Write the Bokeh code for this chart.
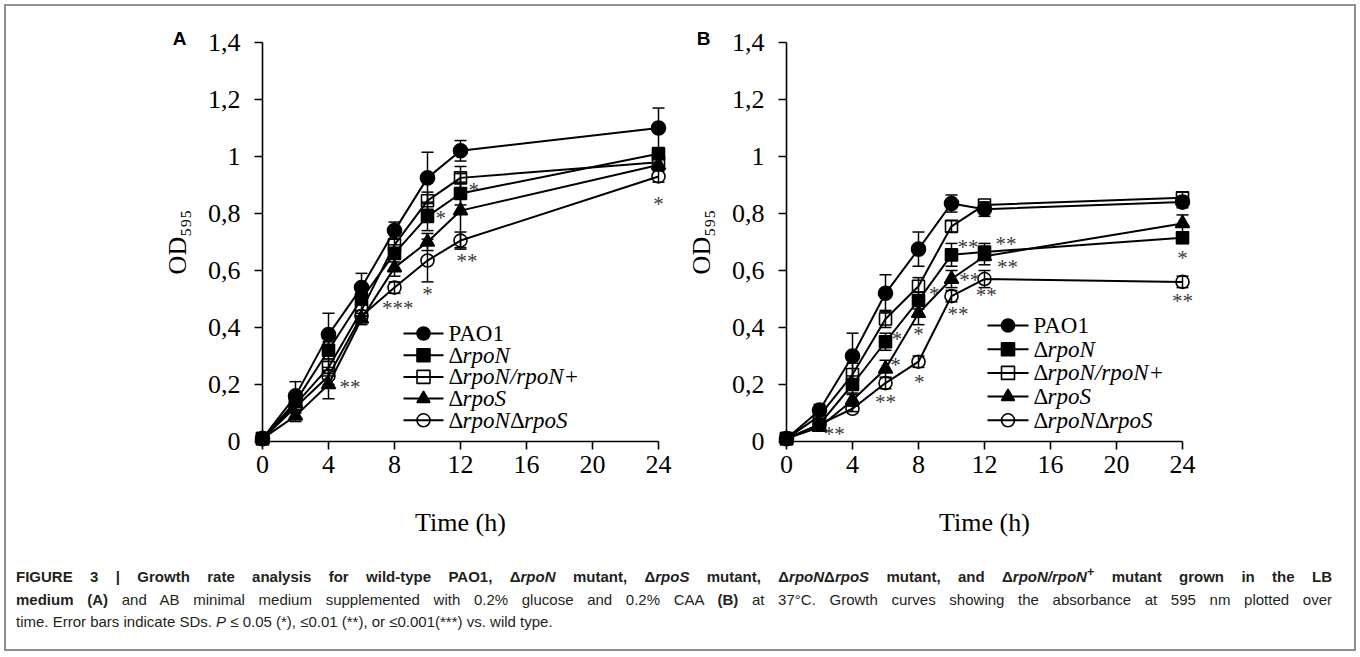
from bokeh.plotting import figure
from bokeh.models import ColumnDataSource, FixedTicker, CustomJSTickFormatter, Div
from bokeh.layouts import row, column
from bokeh.core.properties import value
from bokeh.embed import file_html
from bokeh.resources import INLINE

# ---------------- data ----------------
time_h = [0, 2, 4, 6, 8, 10, 12, 24]
x_ticks = [0, 4, 8, 12, 16, 20, 24]
y_ticks = [0, 0.2, 0.4, 0.6, 0.8, 1.0, 1.2, 1.4]

strain_names = ["PAO1", "ΔrpoN", "ΔrpoN/rpoN+", "ΔrpoS", "ΔrpoNΔrpoS"]
# legend label pieces: (text, italic)
strain_label_parts = [
    [("PAO1", False)],
    [("Δ", False), ("rpoN", True)],
    [("Δ", False), ("rpoN/rpoN+", True)],
    [("Δ", False), ("rpoS", True)],
    [("Δ", False), ("rpoN", True), ("Δ", False), ("rpoS", True)],
]

# Panel A (LB medium)
a_pao1 = [0.01, 0.16, 0.375, 0.54, 0.74, 0.925, 1.02, 1.10]
a_rpoN = [0.01, 0.14, 0.32, 0.50, 0.66, 0.79, 0.87, 1.01]
a_comp = [0.01, 0.13, 0.26, 0.46, 0.69, 0.845, 0.925, 0.98]
a_rpoS = [0.01, 0.09, 0.20, 0.43, 0.61, 0.70, 0.81, 0.97]
a_dbl = [0.01, 0.12, 0.23, 0.44, 0.54, 0.635, 0.705, 0.93]

a_pao1_sd = [0, 0.05, 0.075, 0.05, 0.03, 0.09, 0.036, 0.07]
a_rpoN_sd = [0, 0.02, 0.03, 0.02, 0.03, 0.05, 0.04, 0.02]
a_comp_sd = [0, 0.02, 0.03, 0.02, 0.02, 0.03, 0.04, 0.02]
a_rpoS_sd = [0, 0.02, 0.05, 0.02, 0.03, 0.03, 0.13, 0.02]
a_dbl_sd = [0, 0.02, 0.03, 0.02, 0.02, 0.075, 0.03, 0.02]

# Panel B (AB minimal medium)
b_pao1 = [0.01, 0.11, 0.30, 0.52, 0.675, 0.835, 0.815, 0.84]
b_rpoN = [0.01, 0.06, 0.20, 0.35, 0.495, 0.655, 0.665, 0.715]
b_comp = [0.01, 0.09, 0.235, 0.43, 0.545, 0.755, 0.83, 0.855]
b_rpoS = [0.01, 0.05, 0.145, 0.255, 0.45, 0.57, 0.65, 0.765]
b_dbl = [0.01, 0.06, 0.115, 0.205, 0.28, 0.51, 0.57, 0.56]

b_pao1_sd = [0, 0.02, 0.08, 0.065, 0.06, 0.03, 0.025, 0.02]
b_rpoN_sd = [0, 0.01, 0.03, 0.03, 0.03, 0.04, 0.03, 0.02]
b_comp_sd = [0, 0.01, 0.04, 0.03, 0.03, 0.02, 0.01, 0.02]
b_rpoS_sd = [0, 0.01, 0.02, 0.03, 0.04, 0.03, 0.03, 0.03]
b_dbl_sd = [0, 0.01, 0.01, 0.02, 0.02, 0.02, 0.03, 0.02]

# significance marks: (strain index, point index, text, dx [h], dy [OD])
a_marks = [(2, 6, "*", 0.8, -0.035), (1, 5, "*", 0.8, 0.0), (4, 6, "**", 0.4, -0.065),
           (4, 5, "*", 0.0, -0.11), (4, 4, "***", 0.2, -0.065), (3, 2, "**", 1.3, 0.0),
           (4, 7, "*", 0.0, -0.09)]
b_marks = [(3, 1, "**", 0.9, -0.015),
           (1, 3, "*", 0.7, 0.015), (3, 3, "*", 0.6, 0.02), (4, 3, "**", 0.0, -0.06),
           (1, 4, "*", 0.95, 0.03), (3, 4, "*", 0.0, -0.065), (4, 4, "*", 0.05, -0.065),
           (1, 5, "**", 1.0, 0.035), (3, 5, "**", 1.1, 0.005), (4, 5, "**", 0.4, -0.055),
           (1, 6, "**", 1.3, 0.035), (3, 6, "**", 1.4, -0.03), (4, 6, "**", 0.1, -0.05),
           (1, 7, "*", 0.0, -0.065), (4, 7, "**", 0.0, -0.06)]

# ---------------- styling / layout ----------------
SERIF = "Liberation Serif"
marker_styles = [("circle", True, 14), ("square", True, 12), ("square", False, 12),
                 ("triangle", True, 14), ("circle", False, 13)]

X_MAX, Y_MAX = 24, 1.4
FIG_H = 539
FRAME_W, FRAME_H = 396, 399
BORDER_T = 36
BORDER_B = FIG_H - BORDER_T - FRAME_H
FIG_A_W, BORDER_L_A = 674, 256
FIG_B_W, BORDER_L_B = 674, 106

# legend layout in frame pixels: (x of line start, line length, first row y, row pitch)
LEG_A = (141, 40, 291, 21.7)
LEG_B = (201, 41, 283, 23.7)
LEG_GAP = 5
LEG_FONT = 23
GLYPH_W = {"Δ": 0.613, "r": 0.389, "p": 0.5, "o": 0.5, "N": 0.667, "S": 0.5,
           "/": 0.278, "+": 0.675, "P": 0.556, "A": 0.722, "O": 0.722, "1": 0.5}


def px_x(px):
    return px / FRAME_W * X_MAX


def px_y(py):
    return Y_MAX - py / FRAME_H * Y_MAX


def text_width(s):
    return sum(GLYPH_W.get(c, 0.5) for c in s) * LEG_FONT


def build_panel(times, means, sds, marks, letter, width, border_l, leg):
    border_r = width - border_l - FRAME_W
    p = figure(width=width, height=FIG_H, x_range=(0, X_MAX), y_range=(0, Y_MAX),
               output_backend="svg", toolbar_location=None, title=None,
               min_border_left=border_l, min_border_right=border_r,
               min_border_top=BORDER_T, min_border_bottom=BORDER_B, margin=0)
    p.outline_line_color = None
    p.grid.visible = False
    p.background_fill_color = "white"
    p.border_fill_color = "white"

    p.xaxis.ticker = FixedTicker(ticks=x_ticks, minor_ticks=[])
    p.yaxis.ticker = FixedTicker(ticks=y_ticks, minor_ticks=[])
    p.yaxis.formatter = CustomJSTickFormatter(
        code="return (Math.round(tick*10)/10).toString().replace('.', ',');")
    p.xaxis.axis_label = "Time (h)"
    p.yaxis.axis_label = "OD₅₉₅"
    for ax in (p.xaxis[0], p.yaxis[0]):
        ax.axis_line_color = "black"
        ax.axis_line_width = 1.6
        ax.major_tick_line_color = "black"
        ax.major_tick_line_width = 1.6
        ax.major_tick_out = 8
        ax.major_tick_in = 0
        ax.minor_tick_out = 0
        ax.minor_tick_in = 0
        ax.major_label_text_font = SERIF
        ax.major_label_text_font_size = "26px"
        ax.major_label_text_color = "black"
        ax.axis_label_text_font = SERIF
        ax.axis_label_text_font_style = "normal"
        ax.axis_label_text_font_size = "26px"
        ax.axis_label_text_color = "black"
    p.xaxis.major_label_standoff = 6
    p.xaxis.axis_label_standoff = 32
    p.yaxis.major_label_standoff = 14
    p.yaxis.axis_label_standoff = 13

    # error bars
    for m, s in zip(means, sds):
        ex = [t for t, d in zip(times, s) if d > 0]
        lo = [v - d for v, d in zip(m, s) if d > 0]
        hi = [v + d for v, d in zip(m, s) if d > 0]
        esrc = ColumnDataSource(dict(x=ex, lo=lo, hi=hi))
        p.segment(x0="x", y0="lo", x1="x", y1="hi", source=esrc, line_color="black",
                  line_width=1.5, level="overlay")
        for col in ("lo", "hi"):
            p.scatter(x="x", y=col, source=esrc, marker="dash", size=12,
                      line_color="black", line_width=1.5, level="overlay")
    # lines
    for m in means:
        src = ColumnDataSource(dict(x=times, y=m))
        p.line("x", "y", source=src, line_color="black", line_width=2, level="overlay")
    # markers
    for m, (mk, filled, size) in zip(means, marker_styles):
        src = ColumnDataSource(dict(x=times, y=m))
        p.scatter("x", "y", source=src, marker=mk, size=size, line_color="black",
                  line_width=1.6, fill_color="black" if filled else None, level="overlay")

    # significance asterisks
    mx = [times[ti] + dx for (si, ti, t, dx, dy) in marks]
    my = [means[si][ti] + dy for (si, ti, t, dx, dy) in marks]
    mt = [t for (si, ti, t, dx, dy) in marks]
    p.text(x="x", y="y", text="t", source=ColumnDataSource(dict(x=mx, y=my, t=mt)),
           text_font=value(SERIF), text_font_size=value("21px"), text_color="#3a3a3a",
           text_align="center", text_baseline="middle", y_offset=2, level="overlay")

    # legend (drawn with glyphs so it can extend past the plot frame)
    lx_px, llen, row0, pitch = leg
    lx0, lx1 = px_x(lx_px), px_x(lx_px + llen)
    lxm = px_x(lx_px + llen / 2)
    ltx = px_x(lx_px + llen + LEG_GAP)
    rows_y = [px_y(row0 + i * pitch) for i in range(len(strain_names))]
    p.segment(x0=[lx0] * len(rows_y), y0=rows_y, x1=[lx1] * len(rows_y), y1=rows_y,
              line_color="black", line_width=2, level="overlay")
    for yv, (mk, filled, size) in zip(rows_y, marker_styles):
        p.scatter(x=[lxm], y=[yv], marker=mk, size=13, line_color="black", line_width=1.6,
                  fill_color="black" if filled else None, level="overlay")
    pieces = {False: dict(x=[], y=[], t=[], off=[]), True: dict(x=[], y=[], t=[], off=[])}
    for yv, parts in zip(rows_y, strain_label_parts):
        off = 0.0
        for txt, ital in parts:
            d = pieces[ital]
            d["x"].append(ltx)
            d["y"].append(yv)
            d["t"].append(txt)
            d["off"].append(off)
            off += text_width(txt)
    for ital, d in pieces.items():
        p.text(x="x", y="y", text="t", x_offset="off", source=ColumnDataSource(d),
               text_font=value(SERIF), text_font_size=value(f"{LEG_FONT}px"),
               text_font_style="italic" if ital else "normal", text_color="black",
               text_align="left", text_baseline="middle", level="overlay")

    # panel letter
    p.text(x=[px_x(-83)], y=[px_y(-4)], text=[letter], text_font=value("Liberation Sans"),
           text_font_style="bold", text_font_size=value("19px"), text_color="black",
           text_align="center", text_baseline="middle", level="overlay")
    return p


pA = build_panel(time_h, [a_pao1, a_rpoN, a_comp, a_rpoS, a_dbl],
                 [a_pao1_sd, a_rpoN_sd, a_comp_sd, a_rpoS_sd, a_dbl_sd],
                 a_marks, "A", FIG_A_W, BORDER_L_A, LEG_A)
pB = build_panel(time_h, [b_pao1, b_rpoN, b_comp, b_rpoS, b_dbl],
                 [b_pao1_sd, b_rpoN_sd, b_comp_sd, b_rpoS_sd, b_dbl_sd],
                 b_marks, "B", FIG_B_W, BORDER_L_B, LEG_B)

caption_html = """<div style="font-family:'Liberation Sans',Arial,sans-serif;font-size:15px;line-height:22.5px;color:#231f20;padding:16px 0 0 10px;width:1326px;">
<div style="text-align:justify;text-align-last:justify;white-space:nowrap;"><b>FIGURE 3 | Growth rate analysis for wild-type PAO1, &Delta;<i>rpoN</i> mutant, &Delta;<i>rpoS</i> mutant, &Delta;<i>rpoN</i>&Delta;<i>rpoS</i> mutant, and &Delta;<i>rpoN/rpoN</i><sup>+</sup> mutant grown in the LB</b></div>
<div style="text-align:justify;text-align-last:justify;white-space:nowrap;"><b>medium (A)</b> and AB minimal medium supplemented with 0.2% glucose and 0.2% CAA <b>(B)</b> at 37&deg;C. Growth curves showing the absorbance at 595 nm plotted over</div>
<div style="white-space:nowrap;">time. Error bars indicate SDs. <i>P</i> &le; 0.05 (*), &le;0.01 (**), or &le;0.001(***) vs. wild type.</div>
</div>"""

caption = Div(text=caption_html, width=FIG_A_W + FIG_B_W, height=643 - FIG_H, margin=0)

layout = column(row(pA, pB, margin=0), caption, margin=(4, 0, 0, 4),
                styles={"border": "2px solid #8e8e8e"})

open("out.html", "w").write(file_html(layout, INLINE))
